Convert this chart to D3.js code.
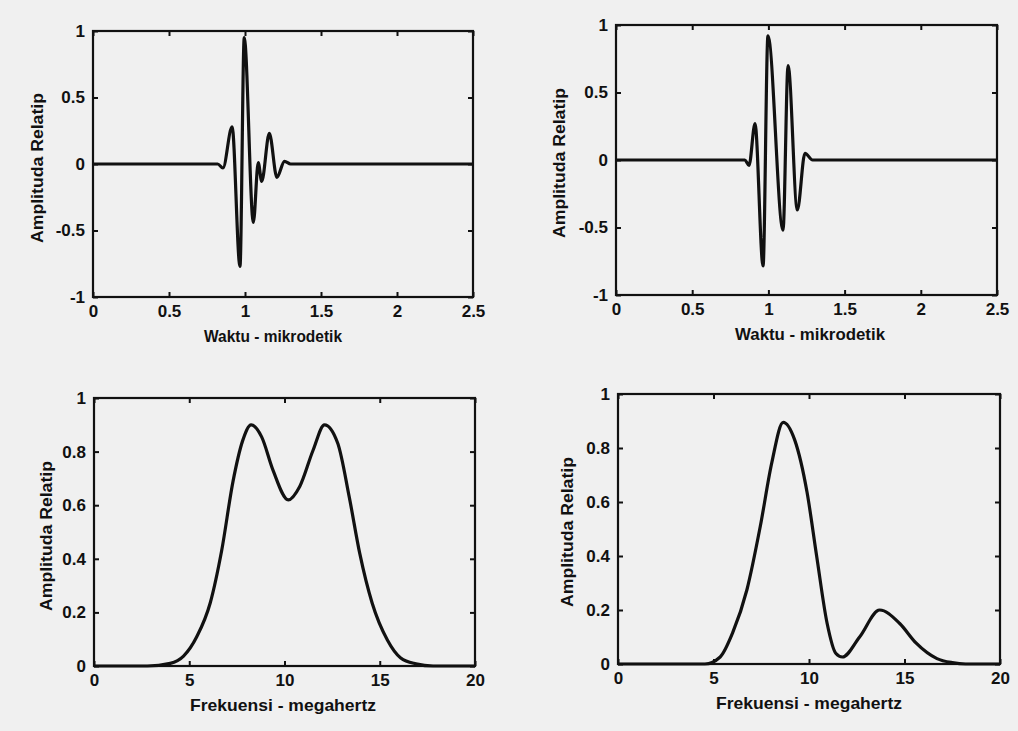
<!DOCTYPE html>
<html>
<head>
<meta charset="utf-8">
<script src="https://cdn.jsdelivr.net/npm/d3@7"></script>
<style>
  body { margin: 0; background: #f0f0f0; }
  svg { display: block; }
</style>
</head>
<body>
<svg width="1018" height="731"></svg>
<script>
// Time domain pulses (mikrodetik vs amplitude)
const timeA = [0, 0.82, 0.855, 0.915, 0.967, 0.995, 1.055, 1.087, 1.11, 1.16, 1.21, 1.26, 1.3, 2.5];
const ampA  = [0, 0, -0.03, 0.28, -0.77, 0.95, -0.44, 0.01, -0.13, 0.23, -0.10, 0.02, 0, 0];

const timeB = [0, 0.846, 0.873, 0.912, 0.965, 0.997, 1.096, 1.129, 1.19, 1.24, 1.29, 2.5];
const ampB  = [0, 0, -0.04, 0.27, -0.785, 0.92, -0.52, 0.70, -0.37, 0.05, 0, 0];

// Spectra (megahertz vs amplitude)
const freqA = [0, 2.8, 4.0, 4.7, 5.4, 6.1, 6.7, 7.3, 7.8, 8.25, 8.8, 9.4, 10.2, 10.8, 11.5, 12.1, 12.8, 13.4, 13.95, 14.6, 15.4, 16.1, 16.9, 17.8, 20];
const specA = [0, 0, 0.01, 0.037, 0.11, 0.235, 0.43, 0.69, 0.84, 0.90, 0.855, 0.73, 0.62, 0.67, 0.805, 0.90, 0.83, 0.63, 0.42, 0.235, 0.097, 0.03, 0.008, 0, 0];

const freqB = [0, 4.55, 5.35, 6.0, 6.75, 7.45, 8.05, 8.65, 9.25, 9.9, 10.4, 10.95, 11.4, 11.75, 12.65, 13.7, 14.75, 15.6, 16.7, 17.5, 18.2, 20];
const specB = [0, 0, 0.026, 0.115, 0.275, 0.51, 0.745, 0.895, 0.83, 0.635, 0.40, 0.15, 0.04, 0.026, 0.10, 0.20, 0.15, 0.078, 0.02, 0.005, 0, 0];

// Tick labels
const timeTicks = [0, 0.5, 1, 1.5, 2, 2.5];
const timeTickLabels = ["0", "0.5", "1", "1.5", "2", "2.5"];
const ampTicks = [-1, -0.5, 0, 0.5, 1];
const ampTickLabels = ["-1", "-0.5", "0", "0.5", "1"];
const freqTicks = [0, 5, 10, 15, 20];
const freqTickLabels = ["0", "5", "10", "15", "20"];
const specTicks = [0, 0.2, 0.4, 0.6, 0.8, 1];
const specTickLabels = ["0", "0.2", "0.4", "0.6", "0.8", "1"];

const yTitle = "Amplituda Relatip";
const timeTitle = "Waktu - mikrodetik";
const freqTitle = "Frekuensi - megahertz";

const svg = d3.select("svg");
const font = "'Liberation Sans', Arial, sans-serif";

function drawPanel(p) {
    let g = svg.append("g")
        .attr("transform", "translate(" + p.left + "," + p.top + ")");

    let x = d3.scaleLinear().domain(p.xDomain).range([0, p.w]);
    let y = d3.scaleLinear().domain(p.yDomain).range([p.h, 0]);

    // axes with inward ticks (labels only bottom / left)
    const fmt = (labels, ticks) => (d => labels[ticks.indexOf(d)]);
    let bottom = g.append("g")
        .attr("transform", "translate(0," + p.h + ")")
        .call(d3.axisBottom(x).tickValues(p.xTicks).tickSizeInner(-5).tickSizeOuter(0)
            .tickPadding(8).tickFormat(fmt(p.xLabels, p.xTicks)));
    let left = g.append("g")
        .call(d3.axisLeft(y).tickValues(p.yTicks).tickSizeInner(-5).tickSizeOuter(0)
            .tickPadding(8).tickFormat(fmt(p.yLabels, p.yTicks)));
    let top = g.append("g")
        .call(d3.axisTop(x).tickValues(p.xTicks).tickSizeInner(-5).tickSizeOuter(0).tickFormat(""));
    let right = g.append("g")
        .attr("transform", "translate(" + p.w + ",0)")
        .call(d3.axisRight(y).tickValues(p.yTicks).tickSizeInner(-5).tickSizeOuter(0).tickFormat(""));

    [bottom, left, top, right].forEach(a => {
        a.select(".domain").remove();
        a.selectAll("line").attr("stroke", "#111").attr("stroke-width", 2);
        a.selectAll("text")
            .attr("fill", "#111")
            .attr("font-family", font)
            .attr("font-weight", "bold")
            .attr("font-size", "17px");
    });

    // box
    g.append("rect")
        .attr("width", p.w)
        .attr("height", p.h)
        .attr("fill", "none")
        .attr("stroke", "#111")
        .attr("stroke-width", 2.2);

    // the curve
    let line = d3.line()
        .x(d => x(d[0]))
        .y(d => y(d[1]))
        .curve(d3.curveMonotoneX);
    g.append("path")
        .datum(d3.zip(p.xs, p.ys))
        .attr("d", line)
        .attr("fill", "none")
        .attr("stroke", "#111")
        .attr("stroke-width", 3.2)
        .attr("stroke-linejoin", "round");

    // titles
    g.append("text")
        .attr("x", p.xTitleX)
        .attr("y", p.h + 45)
        .attr("text-anchor", "middle")
        .attr("fill", "#111")
        .attr("font-family", font)
        .attr("font-weight", "bold")
        .attr("font-size", p.xTitleSize + "px")
        .attr("textLength", p.xTitleLen)
        .attr("lengthAdjust", "spacingAndGlyphs")
        .text(p.xTitle);
    g.append("text")
        .attr("transform", "translate(" + p.yTitleX + "," + p.yTitleY + ") rotate(-90)")
        .attr("text-anchor", "middle")
        .attr("dominant-baseline", "central")
        .attr("fill", "#111")
        .attr("font-family", font)
        .attr("font-weight", "bold")
        .attr("font-size", "16px")
        .attr("textLength", 150)
        .attr("lengthAdjust", "spacingAndGlyphs")
        .text(yTitle);
}

const timePanel = {xDomain: [0, 2.5], yDomain: [-1, 1], xTicks: timeTicks, xLabels: timeTickLabels,
    yTicks: ampTicks, yLabels: ampTickLabels, xTitle: timeTitle};
const freqPanel = {xDomain: [0, 20], yDomain: [0, 1], xTicks: freqTicks, xLabels: freqTickLabels,
    yTicks: specTicks, yLabels: specTickLabels, xTitle: freqTitle, xTitleSize: 17, xTitleLen: 186};

drawPanel(Object.assign({}, timePanel, {left: 93, top: 31, w: 380, h: 266, xs: timeA, ys: ampA,
    xTitleX: 180, xTitleSize: 16.5, xTitleLen: 138, yTitleX: -56, yTitleY: 137}));
drawPanel(Object.assign({}, timePanel, {left: 616, top: 25, w: 381, h: 270, xs: timeB, ys: ampB,
    xTitleX: 194, xTitleSize: 17, xTitleLen: 150, yTitleX: -57, yTitleY: 138}));
drawPanel(Object.assign({}, freqPanel, {left: 94, top: 398, w: 381, h: 268, xs: freqA, ys: specA,
    xTitleX: 189, yTitleX: -48, yTitleY: 138}));
drawPanel(Object.assign({}, freqPanel, {left: 618, top: 394, w: 382, h: 270, xs: freqB, ys: specB,
    xTitleX: 191, yTitleX: -51, yTitleY: 138}));
</script>
</body>
</html>
